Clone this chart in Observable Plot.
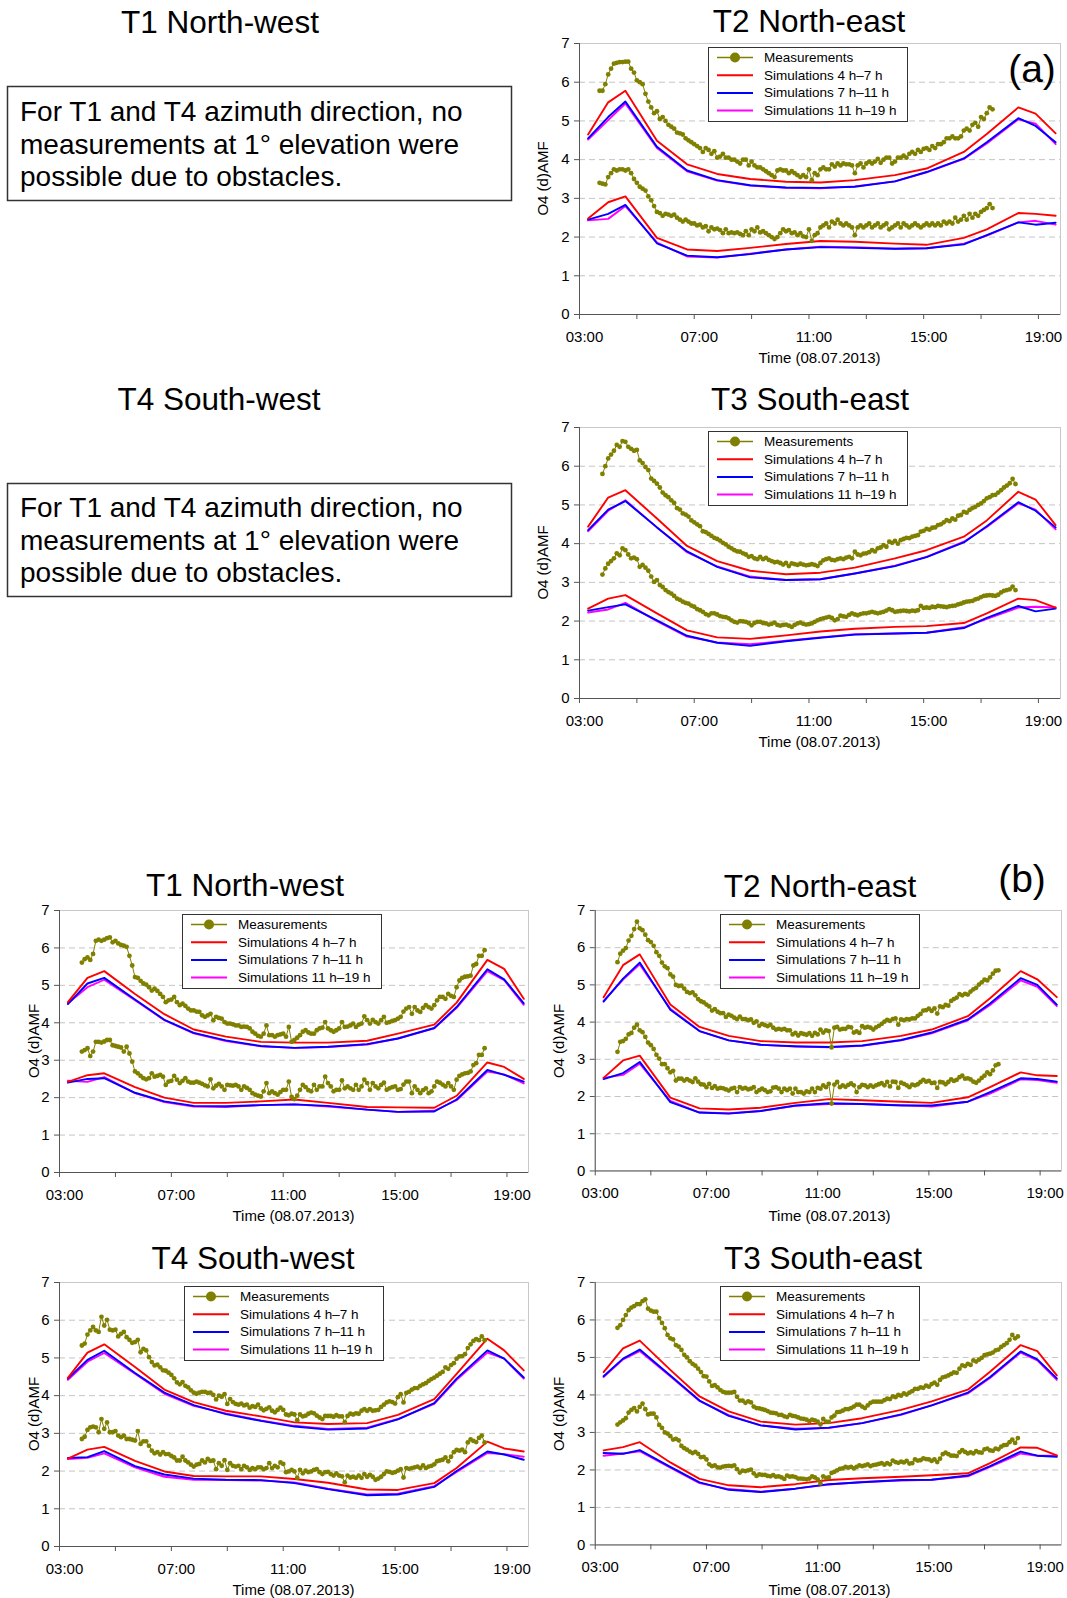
<!DOCTYPE html>
<html>
<head>
<meta charset="utf-8">
<script src="https://cdn.jsdelivr.net/npm/d3@7"></script>
<script src="https://cdn.jsdelivr.net/npm/@observablehq/plot@0.6"></script>
<style>
  html, body { margin: 0; padding: 0; background: #fff; }
  #page { position: relative; width: 1067px; height: 1598px; overflow: hidden; background: #fff;
          font-family: "Liberation Sans", Arial, Helvetica, sans-serif; }
  .pnl { position: absolute; }
  #overlay { position: absolute; left: 0; top: 0; pointer-events: none; }
</style>
</head>
<body>
<div id="page"></div>
<script>
// ---------------- DATA ----------------
const simTime = [3.3, 4.0, 4.6, 5.7, 6.75, 7.8, 8.95, 10.2, 11.4, 12.6, 14.0, 15.1, 16.4, 17.2, 18.3, 18.9, 19.6];
const measTime = [3.7,3.8,3.9,
 4,4.1,4.2,4.3,4.4,4.5,4.6,4.7,4.8,4.9,
 5,5.1,5.2,5.3,5.4,5.5,5.6,5.7,5.8,5.9,
 6,6.1,6.2,6.3,6.4,6.5,6.6,6.7,6.8,6.9,
 7,7.1,7.2,7.3,7.4,7.5,7.6,7.7,7.8,7.9,
 8,8.1,8.2,8.3,8.4,8.5,8.6,8.7,8.8,8.9,
 9,9.1,9.2,9.3,9.4,9.5,9.6,9.7,9.8,9.9,
 10,10.1,10.2,10.3,10.4,10.5,10.6,10.7,10.8,10.9,
 11,11.1,11.2,11.3,11.4,11.5,11.6,11.7,11.8,11.9,
 12,12.1,12.2,12.3,12.4,12.5,12.6,12.7,12.8,12.9,
 13,13.1,13.2,13.3,13.4,13.5,13.6,13.7,13.8,13.9,
 14,14.1,14.2,14.3,14.4,14.5,14.6,14.7,14.8,14.9,
 15,15.1,15.2,15.3,15.4,15.5,15.6,15.7,15.8,15.9,
 16,16.1,16.2,16.3,16.4,16.5,16.6,16.7,16.8,16.9,
 17,17.1,17.2,17.3,17.4,17.5,17.6,17.7,17.8,17.9,
 18,18.1,18.2];
const xTicks = [3, 5, 7, 9, 11, 13, 15, 17, 19];
const xLabelTicks = [3, 7, 11, 15, 19];
const yTicks = [0, 1, 2, 3, 4, 5, 6, 7];
const yGrid = [1, 2, 3, 4, 5, 6];
const legendLabels = ["Measurements", "Simulations 4 h\u20137 h", "Simulations 7 h\u201311 h", "Simulations 11 h\u201319 h"];
const seriesColors = ["#808000", "#ff0000", "#0000ff", "#ff00ff"];

// (a) T2 North-east
const aT2_meas_hi = [5.78,5.78,5.95,
 6.2,6.35,6.48,6.5,6.52,6.52,6.53,6.53,6.35,6.25,
 6.05,6.0,5.95,5.7,5.5,5.35,5.2,5.25,5.05,5.1,
 5.0,4.9,4.85,4.8,4.7,4.68,4.65,4.55,4.5,4.45,
 4.4,4.35,4.3,4.2,4.3,4.25,4.15,4.22,4.05,4.08,
 4.15,4.05,4.05,4.0,4.0,3.95,3.9,4.0,4.0,3.85,
 3.95,3.85,3.8,3.8,3.75,3.7,3.65,3.6,3.55,3.72,
 3.75,3.72,3.72,3.65,3.7,3.65,3.6,3.55,3.6,3.55,
 3.75,3.47,3.65,3.6,3.75,3.8,3.75,3.75,3.88,3.82,
 3.9,3.85,3.9,3.88,3.88,3.85,3.65,3.85,3.9,3.8,
 3.9,3.95,3.9,3.95,4.02,3.92,4.0,4.05,4.05,3.9,
 3.95,4.05,4.05,4.1,4.05,4.15,4.2,4.15,4.25,4.2,
 4.28,4.3,4.25,4.35,4.3,4.4,4.4,4.45,4.55,4.55,
 4.6,4.55,4.55,4.6,4.75,4.8,4.75,4.9,4.95,4.85,
 5.1,5.05,5.2,5.35,5.3,null,null,null,null,null,
 null,null,null];
const aT2_meas_lo = [3.4,3.38,3.36,
 3.55,3.65,3.75,3.72,3.75,3.75,3.72,3.75,3.65,3.5,
 3.4,3.3,3.25,3.2,3.05,2.95,2.8,2.65,2.62,2.55,
 2.6,2.58,2.55,2.58,2.5,2.45,2.4,2.45,2.4,2.35,
 2.35,2.3,2.32,2.25,2.28,2.15,2.25,2.2,2.22,2.18,
 2.1,2.2,2.1,2.12,2.1,2.12,2.08,2.05,2.15,2.05,
 2.2,2.15,2.25,2.12,2.15,2.1,2.05,2.0,1.95,2.0,
 2.1,2.2,2.15,2.18,2.1,2.12,2.05,2.1,2.02,2.0,
 2.2,1.9,2.05,2.1,2.25,2.3,2.35,2.25,2.4,2.35,
 2.45,2.35,2.3,2.35,2.3,2.25,2.05,2.25,2.3,2.25,
 2.3,2.35,2.25,2.3,2.35,2.25,2.3,2.35,2.2,2.25,
 2.3,2.35,2.25,2.35,2.3,2.25,2.3,2.35,2.3,2.25,
 2.3,2.35,2.3,2.35,2.3,2.35,2.3,2.4,2.35,2.4,
 2.35,2.5,2.4,2.45,2.55,2.45,2.6,2.5,2.6,2.55,
 2.65,2.7,2.75,2.85,2.75,null,null,null,null,null,
 null,null,null];
const aT2_red_hi  = [4.65,5.48,5.78,4.49,3.88,3.63,3.5,3.43,3.41,3.47,3.6,3.77,4.2,4.66,5.35,5.19,4.68];
const aT2_blue_hi = [4.55,5.1,5.5,4.33,3.72,3.47,3.34,3.28,3.27,3.3,3.44,3.68,4.03,4.45,5.07,4.87,4.45];
const aT2_mag_hi  = [4.52,5.02,5.45,4.3,3.7,3.46,3.33,3.27,3.26,3.31,3.44,3.67,4.02,4.42,5.04,4.93,4.4];
const aT2_red_lo  = [2.48,2.9,3.05,1.98,1.68,1.64,1.72,1.82,1.9,1.88,1.83,1.8,1.98,2.2,2.62,2.6,2.55];
const aT2_blue_lo = [2.45,2.6,2.83,1.84,1.52,1.48,1.56,1.68,1.74,1.72,1.7,1.71,1.81,2.05,2.38,2.32,2.37];
const aT2_mag_lo  = [2.43,2.47,2.8,1.86,1.5,1.47,1.57,1.68,1.75,1.74,1.7,1.71,1.83,2.04,2.38,2.42,2.32];

// (a) T3 South-east
const aT3_meas_hi = [null,5.8,6.0,
 6.2,6.3,6.4,6.55,6.5,6.65,6.63,6.5,6.45,6.4,
 6.42,6.15,6.08,5.98,5.9,5.68,5.62,5.55,5.45,5.32,
 5.25,5.2,5.12,5.05,4.92,4.88,4.78,4.75,4.7,4.6,
 4.55,4.5,4.45,4.32,4.3,4.25,4.2,4.15,4.12,4.08,
 4.02,3.98,3.92,3.88,3.83,3.8,3.79,3.75,3.72,3.66,
 3.68,3.62,3.6,3.66,3.6,3.63,3.58,3.55,3.52,3.53,
 3.5,3.46,3.5,3.42,3.49,3.47,3.45,3.48,3.46,3.44,
 3.45,3.47,3.45,3.42,3.5,3.57,3.6,3.62,3.58,3.57,
 3.6,3.62,3.6,3.64,3.66,3.62,3.79,3.72,3.7,3.74,
 3.75,3.78,3.83,3.8,3.88,3.9,3.96,3.92,4.05,4.02,
 4.07,4.0,4.09,4.12,4.15,4.14,4.18,4.2,4.22,4.31,
 4.33,4.38,4.36,4.41,4.42,4.48,4.5,4.55,4.61,4.58,
 4.65,4.62,4.72,4.74,4.82,4.8,4.87,4.92,4.95,5.0,
 5.04,5.1,5.17,5.2,5.25,5.26,5.32,5.38,5.45,5.5,
 5.56,5.67,5.54];
const aT3_meas_lo = [null,3.2,3.36,
 3.48,3.55,3.62,3.75,3.7,3.88,3.83,3.72,3.62,3.64,
 3.6,3.4,3.45,3.38,3.3,3.15,3.01,3.06,2.93,2.88,
 2.8,2.75,2.71,2.65,2.58,2.55,2.5,2.47,2.45,2.4,
 2.37,2.31,2.28,2.24,2.18,2.15,2.2,2.2,2.17,2.13,
 2.11,2.1,2.07,2.02,1.98,1.96,2.0,1.99,1.98,1.95,
 1.89,1.95,1.98,1.98,1.95,1.94,1.91,1.93,1.96,1.9,
 1.88,1.9,1.91,1.88,1.85,1.9,1.94,1.96,1.93,1.91,
 1.92,1.94,1.98,2.02,2.05,2.07,2.09,2.11,2.08,2.02,
 2.05,2.14,2.12,2.11,2.16,2.2,2.17,2.15,2.18,2.2,
 2.2,2.22,2.24,2.22,2.2,2.22,2.24,2.27,2.31,2.28,
 2.24,2.25,2.26,2.27,2.26,2.25,2.27,2.26,2.28,2.39,
 2.34,2.35,2.34,2.37,2.36,2.39,2.38,2.37,2.36,2.38,
 2.39,2.4,2.43,2.45,2.48,2.5,2.51,2.52,2.56,2.58,
 2.62,2.65,2.66,2.67,2.66,2.65,2.68,2.74,2.78,2.8,
 2.82,2.89,2.8];
const aT3_red_hi  = [4.44,5.19,5.38,4.65,3.94,3.55,3.3,3.21,3.25,3.38,3.62,3.83,4.18,4.6,5.34,5.14,4.48];
const aT3_blue_hi = [4.35,4.88,5.1,4.42,3.8,3.4,3.13,3.06,3.08,3.23,3.42,3.65,4.03,4.45,5.07,4.85,4.42];
const aT3_mag_hi  = [4.32,4.85,5.12,4.42,3.78,3.41,3.15,3.06,3.08,3.23,3.43,3.66,4.05,4.43,5.04,4.88,4.37];
const aT3_red_lo  = [2.32,2.58,2.67,2.2,1.76,1.58,1.54,1.63,1.73,1.8,1.85,1.87,1.95,2.2,2.58,2.54,2.35];
const aT3_blue_lo = [2.27,2.36,2.43,2.02,1.62,1.44,1.36,1.48,1.57,1.65,1.68,1.7,1.82,2.08,2.39,2.25,2.32];
const aT3_mag_lo  = [2.22,2.3,2.47,2.0,1.6,1.45,1.4,1.49,1.58,1.66,1.68,1.7,1.84,2.06,2.35,2.37,2.35];

// (b) T1 North-west
const bT1_meas_hi = [null,5.61,5.7,
 5.75,5.68,5.84,6.19,6.22,6.19,6.22,6.26,6.28,6.15,
 6.19,6.12,6.08,6.06,6.03,5.79,5.53,5.22,5.2,5.12,
 5.05,5.02,4.95,4.86,4.91,4.85,4.77,4.69,4.55,4.6,
 4.62,4.69,4.55,4.47,4.51,4.45,4.38,4.33,4.33,4.3,
 4.29,4.2,4.16,4.2,4.24,4.07,4.16,4.13,4.11,4.02,
 3.98,3.98,3.96,3.93,3.93,3.89,3.9,3.89,3.85,3.76,
 3.71,3.65,3.63,3.71,3.93,3.67,3.67,3.63,3.67,3.69,
 3.71,3.63,3.89,3.49,3.54,3.6,3.67,3.76,3.8,3.74,
 3.71,3.71,3.8,3.85,3.87,4.02,3.85,3.8,3.76,3.8,
 3.85,4.02,3.89,3.9,3.93,3.98,3.89,3.95,3.98,4.17,
 4.07,3.98,4.08,4.02,3.98,4.07,4.16,4.0,4.02,4.05,
 4.07,4.11,4.16,4.3,4.38,4.42,4.24,4.42,4.33,4.29,
 4.4,4.47,4.42,4.38,4.47,4.6,4.69,4.69,4.64,4.77,
 4.72,4.69,4.95,5.13,5.2,5.23,5.24,5.26,5.53,5.57,
 5.79,5.79,5.94];
const bT1_meas_lo = [null,3.23,3.27,
 3.32,3.11,3.23,3.49,3.49,3.47,3.5,3.54,3.54,3.4,
 3.38,3.36,3.34,3.23,3.36,3.18,2.96,2.7,2.65,2.58,
 2.52,2.49,2.52,2.65,2.56,2.58,2.61,2.56,2.34,2.43,
 2.45,2.58,2.48,2.39,2.45,2.52,2.43,2.4,2.4,2.43,
 2.4,2.37,2.33,2.3,2.49,2.25,2.32,2.37,2.3,2.21,
 2.34,2.33,2.32,2.34,2.3,2.21,2.3,2.26,2.21,2.12,
 2.08,2.05,2.03,2.17,2.39,2.12,2.17,2.12,2.08,2.15,
 2.21,2.21,2.43,2.02,1.96,2.05,2.21,2.34,2.28,2.2,
 2.17,2.34,2.21,2.3,2.3,2.56,2.39,2.3,2.17,2.21,
 2.21,2.46,2.25,2.3,2.25,2.21,2.34,2.21,2.3,2.48,
 2.39,2.21,2.39,2.3,2.25,2.34,2.4,2.21,2.25,2.28,
 2.3,2.21,2.23,2.35,2.43,2.43,2.12,2.3,2.21,2.12,
 2.2,2.25,2.12,2.17,2.3,2.43,2.4,2.35,2.3,2.39,
 2.3,2.21,2.48,2.58,2.62,2.65,2.66,2.7,2.87,2.92,
 3.14,3.14,3.32];
const bT1_red_hi  = [4.55,5.2,5.38,4.77,4.23,3.82,3.63,3.49,3.47,3.47,3.52,3.71,3.95,4.54,5.68,5.44,4.64];
const bT1_blue_hi = [4.5,5.05,5.2,4.62,4.08,3.73,3.53,3.38,3.33,3.36,3.43,3.58,3.86,4.42,5.43,5.16,4.52];
const bT1_mag_hi  = [4.52,4.95,5.15,4.6,4.07,3.72,3.51,3.37,3.33,3.35,3.42,3.58,3.85,4.4,5.38,5.14,4.48];
const bT1_red_lo  = [2.42,2.6,2.65,2.28,2.0,1.86,1.86,1.9,1.95,1.86,1.75,1.74,1.73,2.05,2.94,2.82,2.5];
const bT1_blue_lo = [2.4,2.5,2.52,2.13,1.9,1.78,1.77,1.8,1.82,1.78,1.68,1.62,1.63,1.95,2.74,2.61,2.43];
const bT1_mag_lo  = [2.45,2.42,2.55,2.12,1.88,1.76,1.75,1.8,1.82,1.76,1.68,1.62,1.65,1.93,2.7,2.62,2.38];

// (b) T2 North-east
const bT2_meas_hi = [null,5.61,5.84,
 5.92,5.99,6.19,6.32,6.5,6.7,6.52,6.47,6.35,6.2,
 6.15,6.05,5.88,5.78,5.6,5.5,5.45,5.28,5.22,5.0,
 4.97,4.98,4.9,4.81,4.78,4.8,4.72,4.62,4.56,4.53,
 4.47,4.42,4.31,4.35,4.28,4.24,4.24,4.14,4.2,4.17,
 4.12,4.08,4.15,4.08,4.08,4.05,4.07,3.98,4.02,3.9,
 3.95,3.92,3.89,3.93,3.85,3.8,3.82,3.8,3.82,3.78,
 3.78,3.67,3.71,3.64,3.7,3.68,3.66,3.7,3.63,3.71,
 3.67,3.8,3.72,3.78,3.76,3.32,3.85,3.87,3.8,3.82,
 3.82,3.87,3.86,3.72,3.75,3.71,3.89,3.85,3.87,3.85,
 3.8,3.86,3.9,3.95,4.01,4.06,4.03,4.08,4.1,3.93,
 4.07,4.05,4.08,4.07,4.1,4.1,4.17,4.22,4.31,4.32,
 4.36,4.3,4.37,4.23,4.42,4.4,4.46,4.44,4.57,4.62,
 4.66,4.75,4.72,4.76,4.74,4.82,4.88,4.92,5.01,5.07,
 5.14,5.12,5.2,5.3,5.38,5.39,null,null,null,null,
 null,null,null];
const bT2_meas_lo = [null,3.2,3.47,
 3.49,3.55,3.67,3.71,3.85,3.93,3.78,3.73,3.6,3.45,
 3.38,3.28,3.12,3.02,2.87,2.87,2.76,2.65,2.69,2.43,
 2.48,2.48,2.43,2.47,2.43,2.39,2.49,2.4,2.33,2.32,
 2.25,2.34,2.23,2.28,2.21,2.23,2.22,2.19,2.16,2.21,
 2.23,2.12,2.25,2.21,2.23,2.19,2.21,2.25,2.12,2.17,
 2.21,2.17,2.12,2.14,2.24,2.25,2.21,2.12,2.21,2.17,
 2.21,2.08,2.21,2.12,2.12,2.08,2.14,2.12,2.21,2.12,
 2.23,2.21,2.3,2.25,2.34,1.81,2.32,2.39,2.25,2.3,
 2.26,2.31,2.35,2.3,2.12,2.25,2.31,2.3,2.25,2.3,
 2.26,2.3,2.33,2.36,2.3,2.39,2.27,2.4,2.39,2.23,
 2.37,2.34,2.3,2.25,2.32,2.3,2.33,2.39,2.45,2.4,
 2.42,2.36,2.37,2.23,2.39,2.38,2.33,2.39,2.46,2.42,
 2.45,2.52,2.56,2.48,2.49,2.46,2.4,2.37,2.43,2.5,
 2.56,2.65,2.6,2.7,2.84,2.87,null,null,null,null,
 null,null,null];
const bT2_red_hi  = [4.67,5.53,5.82,4.47,3.87,3.63,3.49,3.45,3.45,3.49,3.63,3.8,4.16,4.64,5.37,5.15,4.67];
const bT2_blue_hi = [4.55,5.17,5.6,4.33,3.76,3.51,3.39,3.35,3.33,3.37,3.52,3.72,4.07,4.5,5.18,5.0,4.47];
const bT2_mag_hi  = [4.57,5.14,5.55,4.36,3.76,3.51,3.39,3.34,3.32,3.36,3.51,3.7,4.05,4.46,5.12,4.95,4.43];
const bT2_red_lo  = [2.5,2.97,3.1,1.97,1.68,1.65,1.7,1.83,1.93,1.9,1.86,1.83,1.98,2.25,2.65,2.57,2.55];
const bT2_blue_lo = [2.47,2.63,2.93,1.85,1.57,1.54,1.61,1.76,1.82,1.8,1.76,1.76,1.86,2.12,2.49,2.47,2.4];
const bT2_mag_lo  = [2.5,2.58,2.88,1.88,1.57,1.55,1.61,1.75,1.8,1.8,1.77,1.73,1.86,2.08,2.46,2.44,2.37];

// (b) T4 South-west
const bT4_meas_hi = [null,5.33,5.38,
 5.62,5.73,5.82,5.73,5.69,6.09,5.86,6.01,5.75,5.73,
 5.75,5.57,5.64,5.69,5.55,5.48,5.4,5.42,5.48,5.15,
 5.24,5.2,5.02,4.89,4.8,4.82,4.75,4.67,4.66,4.61,
 4.55,4.46,4.35,4.3,4.36,4.26,4.22,4.14,4.08,4.05,
 4.08,4.1,4.1,4.07,4.08,4.02,3.9,4.0,3.97,4.04,
 3.78,3.91,3.83,3.78,3.76,3.79,3.74,3.76,3.68,3.72,
 3.7,3.76,3.66,3.61,3.65,3.69,3.6,3.56,3.62,3.68,
 3.62,3.5,3.48,3.52,3.5,3.35,3.5,3.45,3.47,3.52,
 3.55,3.53,3.47,3.42,3.38,3.46,3.46,3.46,3.44,3.48,
 3.45,3.45,3.3,3.46,3.52,3.5,3.53,3.52,3.6,3.64,
 3.6,3.64,3.6,3.61,3.62,3.7,3.76,3.82,3.85,3.83,
 3.79,3.96,4.04,3.82,4.07,4.1,4.16,4.2,4.2,4.26,
 4.3,4.33,4.39,4.44,4.48,4.53,4.58,4.63,4.75,4.71,
 4.81,4.86,4.98,5.04,5.05,5.1,5.26,5.36,5.45,5.5,
 5.47,5.57,5.47];
const bT4_meas_lo = [null,2.85,2.91,
 3.09,3.16,3.18,3.16,3.03,3.38,3.12,3.29,3.03,3.03,
 3.06,2.94,2.9,2.94,2.85,2.85,2.83,2.81,3.06,2.72,
 2.79,2.79,2.67,2.54,2.47,2.5,2.44,2.5,2.45,2.45,
 2.4,2.36,2.28,2.28,2.38,2.28,2.23,2.17,2.12,2.17,
 2.19,2.28,2.23,2.32,2.27,2.28,2.05,2.21,2.14,2.29,
 2.03,2.21,2.14,2.12,2.14,2.05,2.14,2.1,2.03,2.08,
 2.05,2.1,2.1,2.05,2.08,2.21,2.08,2.14,2.1,2.23,
 2.19,1.97,1.99,2.03,1.99,1.82,2.03,1.94,2.01,1.97,
 1.99,2.03,2.05,1.97,1.92,1.97,1.98,1.92,1.88,1.94,
 1.88,1.86,1.7,1.88,1.83,1.85,1.82,1.88,1.82,1.92,
 1.85,1.9,1.85,1.77,1.8,1.85,1.92,1.99,1.98,1.95,
 1.97,2.01,2.05,1.83,2.08,2.06,2.08,2.1,2.12,2.08,
 2.15,2.08,2.12,2.14,2.18,2.26,2.28,2.3,2.36,2.26,
 2.38,2.5,2.56,2.54,2.57,2.5,2.76,2.84,2.8,2.77,
 2.88,2.94,2.76];
const bT4_red_hi  = [4.47,5.14,5.36,4.76,4.16,3.83,3.6,3.45,3.29,3.25,3.27,3.49,3.91,4.58,5.51,5.2,4.67];
const bT4_blue_hi = [4.45,4.95,5.19,4.6,4.08,3.75,3.51,3.33,3.18,3.1,3.13,3.37,3.8,4.45,5.2,4.98,4.48];
const bT4_mag_hi  = [4.42,4.9,5.13,4.58,4.05,3.73,3.53,3.34,3.2,3.12,3.15,3.38,3.78,4.42,5.14,4.98,4.45];
const bT4_red_lo  = [2.33,2.57,2.64,2.27,1.99,1.87,1.86,1.86,1.79,1.69,1.51,1.5,1.68,2.08,2.78,2.6,2.52];
const bT4_blue_lo = [2.35,2.37,2.53,2.13,1.91,1.8,1.77,1.76,1.68,1.52,1.36,1.38,1.58,2.0,2.52,2.44,2.3];
const bT4_mag_lo  = [2.32,2.35,2.47,2.1,1.85,1.77,1.76,1.75,1.7,1.53,1.38,1.4,1.6,1.98,2.48,2.45,2.38];

// (b) T3 South-east
const bT3_meas_hi = [null,5.79,5.86,
 6.0,6.13,6.26,6.33,6.37,6.42,6.42,6.5,6.55,6.3,
 6.25,6.22,6.22,6.05,5.92,5.78,5.6,5.51,5.48,5.33,
 5.29,5.2,5.07,5.0,4.9,4.83,4.78,4.7,4.61,4.5,
 4.49,4.36,4.24,4.26,4.2,4.13,4.08,4.06,4.06,4.06,
 4.08,3.95,3.85,3.85,3.79,3.83,3.8,3.69,3.65,3.64,
 3.62,3.6,3.57,3.53,3.52,3.51,3.47,3.47,3.43,3.41,
 3.47,3.44,3.43,3.4,3.37,3.36,3.34,3.3,3.34,3.32,
 3.29,3.21,3.36,3.29,3.28,3.4,3.45,3.54,3.55,3.58,
 3.62,3.62,3.65,3.69,3.74,3.74,3.69,3.65,3.72,3.79,
 3.82,3.82,3.82,3.82,3.86,3.9,3.89,3.96,3.94,4.0,
 3.98,4.04,4.01,4.06,4.1,4.16,4.16,4.2,4.19,4.25,
 4.22,4.29,4.33,4.27,4.4,4.47,4.49,4.52,4.56,4.6,
 4.59,4.7,4.79,4.77,4.83,4.8,4.92,4.89,4.94,4.99,
 5.06,5.08,5.1,5.13,5.19,5.21,5.28,5.33,5.38,5.47,
 5.6,5.51,5.56];
const bT3_meas_lo = [null,3.21,3.27,
 3.32,3.38,3.53,3.6,3.65,3.56,3.68,3.77,3.62,3.48,
 3.5,3.5,3.4,3.2,3.12,3.0,2.97,2.9,2.81,2.83,
 2.79,2.64,2.58,2.54,2.49,2.45,2.48,2.43,2.34,2.35,
 2.28,2.15,2.1,2.12,2.07,2.06,2.09,2.1,2.11,2.1,
 2.12,2.02,1.93,1.98,1.97,1.99,2.01,1.91,1.84,1.88,
 1.87,1.87,1.84,1.83,1.86,1.82,1.83,1.8,1.76,1.85,
 1.82,1.83,1.81,1.77,1.77,1.76,1.75,1.77,1.83,1.8,
 1.75,1.64,1.83,1.79,1.8,1.92,1.95,1.99,2.03,2.04,
 2.08,2.06,2.08,2.04,2.08,2.12,2.1,2.12,2.15,2.1,
 2.13,2.14,2.16,2.18,2.14,2.18,2.15,2.25,2.21,2.19,
 2.22,2.2,2.24,2.17,2.18,2.28,2.25,2.26,2.31,2.29,
 2.28,2.24,2.28,2.21,2.3,2.42,2.46,2.42,2.38,2.38,
 2.37,2.47,2.53,2.48,2.44,2.47,2.44,2.5,2.47,2.46,
 2.55,2.57,2.52,2.51,2.57,2.55,2.62,2.66,2.67,2.74,
 2.81,2.72,2.85];
const bT3_red_hi  = [4.61,5.24,5.45,4.67,3.96,3.56,3.29,3.21,3.25,3.38,3.6,3.83,4.14,4.62,5.33,5.17,4.52];
const bT3_blue_hi = [4.5,4.97,5.21,4.52,3.85,3.44,3.19,3.08,3.13,3.25,3.48,3.72,4.06,4.48,5.16,4.95,4.44];
const bT3_mag_hi  = [4.48,4.95,5.17,4.5,3.84,3.46,3.19,3.1,3.12,3.25,3.47,3.72,4.04,4.45,5.13,4.92,4.4];
const bT3_red_lo  = [2.52,2.61,2.74,2.2,1.76,1.59,1.54,1.62,1.73,1.78,1.82,1.86,1.91,2.18,2.6,2.59,2.39];
const bT3_blue_lo = [2.45,2.43,2.53,2.08,1.67,1.47,1.41,1.5,1.62,1.67,1.73,1.74,1.85,2.1,2.49,2.38,2.35];
const bT3_mag_lo  = [2.38,2.44,2.5,2.06,1.65,1.49,1.42,1.5,1.61,1.68,1.72,1.74,1.83,2.08,2.44,2.38,2.38];

// ---------------- LAYOUT ----------------
const FONT = '"Liberation Sans", Arial, Helvetica, sans-serif';
const xDomain = [3, 19.77];
const panels = [
  {L:579, R:1060, T:43,  B:314,  ylab:37, leg:[708,47],
   meas:[aT2_meas_hi, aT2_meas_lo], red:[aT2_red_hi, aT2_red_lo], blue:[aT2_blue_hi, aT2_blue_lo], mag:[aT2_mag_hi, aT2_mag_lo]},
  {L:579, R:1060, T:427, B:698,  ylab:37, leg:[708,431],
   meas:[aT3_meas_hi, aT3_meas_lo], red:[aT3_red_hi, aT3_red_lo], blue:[aT3_blue_hi, aT3_blue_lo], mag:[aT3_mag_hi, aT3_mag_lo]},
  {L:59,  R:528,  T:910, B:1172, ylab:26, leg:[182,914],
   meas:[bT1_meas_hi, bT1_meas_lo], red:[bT1_red_hi, bT1_red_lo], blue:[bT1_blue_hi, bT1_blue_lo], mag:[bT1_mag_hi, bT1_mag_lo]},
  {L:595, R:1064, T:910, B:1172, ylab:37, leg:[720,914],
   meas:[bT2_meas_hi, bT2_meas_lo], red:[bT2_red_hi, bT2_red_lo], blue:[bT2_blue_hi, bT2_blue_lo], mag:[bT2_mag_hi, bT2_mag_lo]},
  {L:59,  R:528,  T:1282, B:1546, ylab:26, leg:[184,1286],
   meas:[bT4_meas_hi, bT4_meas_lo], red:[bT4_red_hi, bT4_red_lo], blue:[bT4_blue_hi, bT4_blue_lo], mag:[bT4_mag_hi, bT4_mag_lo]},
  {L:595, R:1064, T:1282, B:1546, ylab:37, leg:[720,1286],
   meas:[bT3_meas_hi, bT3_meas_lo], red:[bT3_red_hi, bT3_red_lo], blue:[bT3_blue_hi, bT3_blue_lo], mag:[bT3_mag_hi, bT3_mag_lo]}
];

const page = document.getElementById("page");
const mL = 45, mR = 6, mT = 6, mB = 34;
const simRows = arr => arr.map((v, i) => ({t: simTime[i], v}));
const measRows = arr => arr.map((v, i) => ({t: measTime[i], v})).filter(d => d.v != null);
const fmtTick = h => String(h).padStart(2, "0") + ":00";

for (const p of panels) {
  const W = p.R - p.L, H = p.B - p.T;
  const marks = [
    Plot.gridY(yGrid, {stroke: "#c4c4c4", strokeOpacity: 1, strokeDasharray: "6,4"}),
    Plot.frame({stroke: "#c8c8c8"}),
    Plot.ruleY([0], {stroke: "#555"}),
    Plot.ruleX([xDomain[0]], {stroke: "#555"}),
    // tick marks (all 2-hourly ticks)
    Plot.axisX({ticks: xTicks, tickFormat: () => "", tickSize: 5, stroke: "#555", label: null}),
    // labels every 4 hours (slightly right of the tick, as in the original)
    Plot.axisX({ticks: xLabelTicks, tickFormat: fmtTick, tickSize: 0, tickPadding: 17, dx: 5, fill: "#000", fontSize: 15, label: null}),
    Plot.axisY({ticks: yTicks, tickFormat: d => String(d), tickSize: 5, tickPadding: 5, stroke: "#555", fill: "#000", fontSize: 15, label: null})
  ];
  for (let k = 0; k < 2; k++) {
    marks.push(Plot.line(simRows(p.mag[k]), {x: "t", y: "v", stroke: seriesColors[3], strokeWidth: 1.9}));
    marks.push(Plot.line(simRows(p.blue[k]), {x: "t", y: "v", stroke: seriesColors[2], strokeWidth: 1.9}));
    marks.push(Plot.line(simRows(p.red[k]), {x: "t", y: "v", stroke: seriesColors[1], strokeWidth: 1.9}));
  }
  for (let k = 0; k < 2; k++) {
    const rows = measRows(p.meas[k]);
    marks.push(Plot.line(rows, {x: "t", y: "v", stroke: seriesColors[0], strokeWidth: 1}));
    marks.push(Plot.dot(rows, {x: "t", y: "v", fill: seriesColors[0], r: 2.4, stroke: "none"}));
  }
  const svg = Plot.plot({
    width: W + mL + mR, height: H + mT + mB,
    marginLeft: mL, marginRight: mR, marginTop: mT, marginBottom: mB,
    x: {domain: xDomain},
    y: {domain: [0, 7]},
    style: {fontFamily: FONT, fontSize: "15px", color: "#000", background: "none", overflow: "visible"},
    marks
  });
  const holder = document.createElement("div");
  holder.className = "pnl";
  holder.style.left = (p.L - mL) + "px";
  holder.style.top = (p.T - mT) + "px";
  holder.appendChild(svg);
  page.appendChild(holder);
}

// ---------------- TEXT OVERLAY ----------------
const ov = d3.select(page).append("svg").attr("id", "overlay")
  .attr("width", 1067).attr("height", 1598)
  .style("font-family", FONT);

const titles = [
  ["T1 North-west", 220, 33], ["T2 North-east", 809, 32],
  ["T4 South-west", 219, 410], ["T3 South-east", 810, 410],
  ["T1 North-west", 245, 896], ["T2 North-east", 820, 897],
  ["T4 South-west", 253, 1269], ["T3 South-east", 823, 1269]
];
for (const [txt, x, y] of titles)
  ov.append("text").attr("x", x).attr("y", y).attr("text-anchor", "middle")
    .attr("font-size", 31.5).attr("fill", "#000").text(txt);

ov.append("text").attr("x", 1032).attr("y", 82).attr("text-anchor", "middle").attr("font-size", 39).text("(a)");
ov.append("text").attr("x", 1022).attr("y", 892).attr("text-anchor", "middle").attr("font-size", 39).text("(b)");

const noteLines = ["For T1 and T4 azimuth direction, no", "measurements at 1\u00b0 elevation were", "possible due to obstacles."];
for (const [top, bottom, base] of [[86.5, 200.5, 121], [483.5, 596.5, 517]]) {
  ov.append("rect").attr("x", 7.5).attr("y", top).attr("width", 504).attr("height", bottom - top)
    .attr("fill", "#fff").attr("stroke", "#333").attr("stroke-width", 1.5);
  noteLines.forEach((l, i) => ov.append("text").attr("x", 20).attr("y", base + i * 32.5)
    .attr("font-size", 28).attr("fill", "#000").text(l));
}

for (const p of panels) {
  const cx = (p.L + p.R) / 2;
  ov.append("text").attr("x", cx).attr("y", p.B + 49).attr("text-anchor", "middle")
    .attr("font-size", 15).text("Time (08.07.2013)");
  const yc = (p.T + p.B) / 2;
  ov.append("text").attr("transform", `translate(${p.L - p.ylab},${yc}) rotate(-90)`)
    .attr("text-anchor", "middle").attr("dominant-baseline", "central")
    .attr("font-size", 15).text("O4 (d)AMF");
  // legend
  const [lx, ly] = p.leg;
  const g = ov.append("g").attr("transform", `translate(${lx},${ly})`);
  g.append("rect").attr("x", 0.5).attr("y", 0.5).attr("width", 199).attr("height", 74)
    .attr("fill", "#fff").attr("stroke", "#333").attr("stroke-width", 1);
  legendLabels.forEach((lab, i) => {
    const yy = 10.5 + i * 17.7;
    g.append("line").attr("x1", 9).attr("x2", 45).attr("y1", yy).attr("y2", yy)
      .attr("stroke", seriesColors[i]).attr("stroke-width", i === 0 ? 1.5 : 2);
    if (i === 0) g.append("circle").attr("cx", 27).attr("cy", yy).attr("r", 5).attr("fill", seriesColors[0]);
    g.append("text").attr("x", 56).attr("y", yy).attr("dominant-baseline", "central")
      .attr("font-size", 13.5).text(lab);
  });
}
</script>
</body>
</html>
